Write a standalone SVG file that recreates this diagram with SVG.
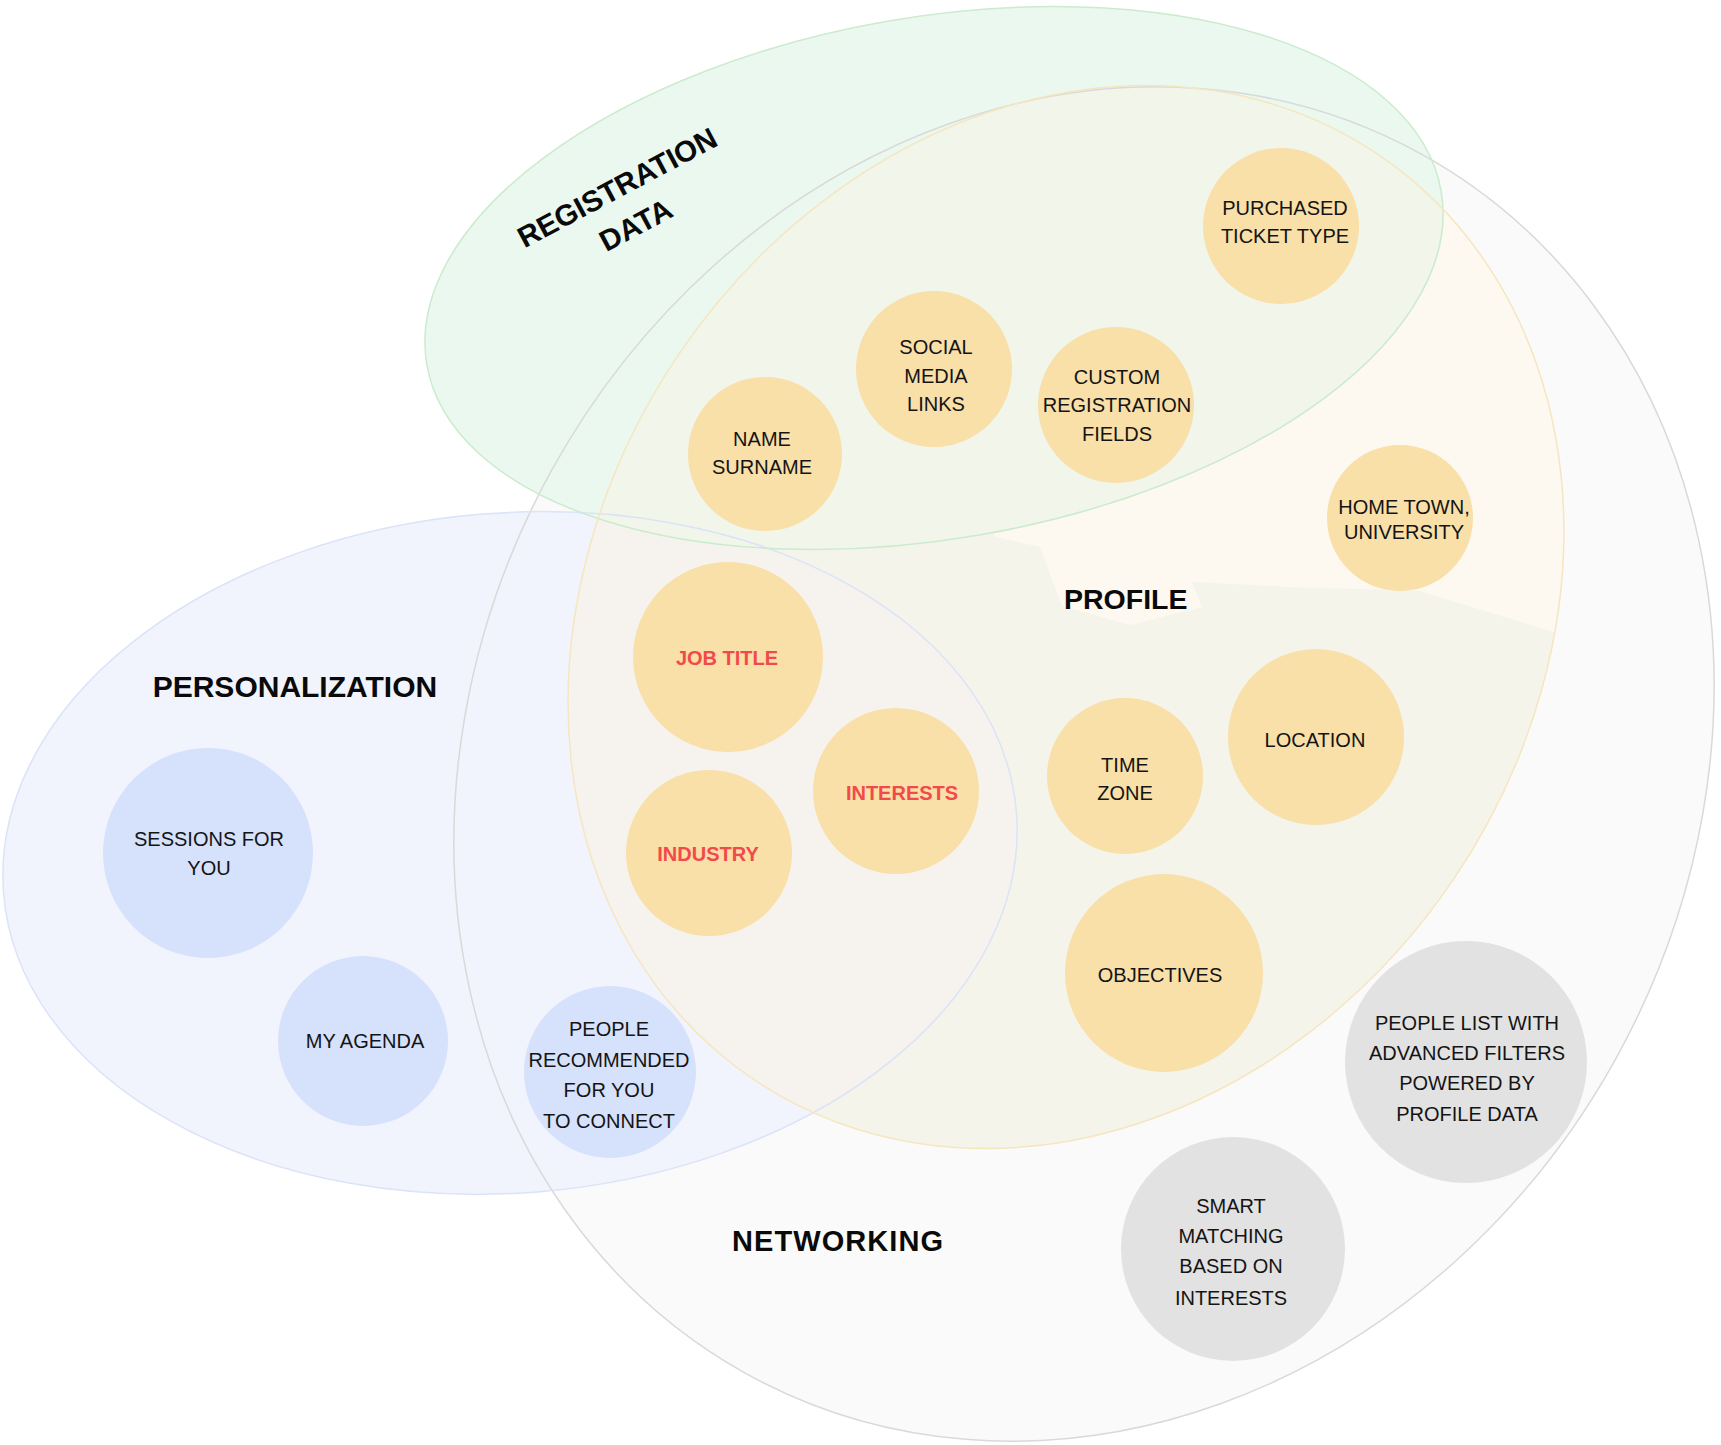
<svg xmlns="http://www.w3.org/2000/svg" width="1721" height="1445" viewBox="0 0 1721 1445">
<style>
.t{font-family:"Liberation Sans",Arial,sans-serif;font-size:20px;fill:#141414;text-anchor:middle}
.r{font-family:"Liberation Sans",Arial,sans-serif;font-size:20px;font-weight:bold;fill:#F24A4A;text-anchor:middle}
.h{font-family:"Liberation Sans",Arial,sans-serif;font-weight:bold;fill:#0A0A0A}
.o{fill:#F9DFA8}
.b{fill:#D6E1FB}
.g{fill:#E2E2E2}
</style>
<defs>
<ellipse id="eNet" cx="1084" cy="764" rx="608" ry="697" transform="rotate(29 1084 764)"/>
<ellipse id="ePro" cx="1066" cy="617" rx="468" ry="558" transform="rotate(34 1066 617)"/>
<ellipse id="eReg" cx="934" cy="278" rx="514.5" ry="261" transform="rotate(-9.7 934 278)"/>
<ellipse id="ePer" cx="510" cy="853" rx="508" ry="340" transform="rotate(-4.6 510 853)"/>
<clipPath id="cPro"><use href="#ePro"/></clipPath>
</defs>
<g id="areas">
<use href="#eNet" fill="#FAFAFA"/>
<use href="#ePer" fill="#F1F4FD"/>
<use href="#eReg" fill="#EBF8F0"/>
<use href="#ePro" fill="#F4F4EA"/>
<g clip-path="url(#cPro)">
<polygon points="900,400 996,537 1040,547 1062,606 1130,625 1202,607 1192,582 1309,588 1416,590 1560,634 1640,634 1640,0 900,0" fill="#FDF9F1"/>
<use href="#ePer" fill="#F6F3EF"/>
<use href="#eReg" fill="#F1F5EA"/>
</g>
<use href="#eNet" fill="none" stroke="#D9D9D9" stroke-width="1.5"/>
<use href="#ePer" fill="none" stroke="#DAE3F8" stroke-width="1.5"/>
<use href="#eReg" fill="none" stroke="#CBEBCD" stroke-width="1.5"/>
<use href="#ePro" fill="none" stroke="#F6E6C0" stroke-width="1.5"/>
</g>
<g id="connectors"/>
<g id="titles">
<text class="h" font-size="29.5" text-anchor="middle" transform="translate(622,196.6) rotate(-28)">REGISTRATION</text>
<text class="h" font-size="29.5" text-anchor="middle" transform="translate(640.5,234) rotate(-28)">DATA</text>
<text class="h" font-size="30" x="152.7" y="696.7">PERSONALIZATION</text>
<text class="h" font-size="28.5" x="1064" y="609">PROFILE</text>
<text class="h" font-size="29" x="732" y="1251" textLength="211" lengthAdjust="spacing">NETWORKING</text>
</g>
<g id="purchased-ticket-type"><circle class="o" cx="1281" cy="226" r="78"/><text class="t" x="1285" y="215">PURCHASED</text><text class="t" x="1285" y="243">TICKET TYPE</text></g>
<g id="social-media-links"><circle class="o" cx="934" cy="369" r="78"/><text class="t" x="936" y="354">SOCIAL</text><text class="t" x="936" y="383">MEDIA</text><text class="t" x="936" y="411">LINKS</text></g>
<g id="name-surname"><circle class="o" cx="765" cy="454" r="77"/><text class="t" x="762" y="446">NAME</text><text class="t" x="762" y="474">SURNAME</text></g>
<g id="custom-registration-fields"><circle class="o" cx="1116" cy="405" r="78"/><text class="t" x="1117" y="384">CUSTOM</text><text class="t" x="1117" y="412">REGISTRATION</text><text class="t" x="1117" y="441">FIELDS</text></g>
<g id="home-town-university"><circle class="o" cx="1400" cy="518" r="73"/><text class="t" x="1404" y="514">HOME TOWN,</text><text class="t" x="1404" y="539">UNIVERSITY</text></g>
<g id="location"><circle class="o" cx="1316" cy="737" r="88"/><text class="t" x="1315" y="747">LOCATION</text></g>
<g id="time-zone"><circle class="o" cx="1125" cy="776" r="78"/><text class="t" x="1125" y="772">TIME</text><text class="t" x="1125" y="800">ZONE</text></g>
<g id="objectives"><circle class="o" cx="1164" cy="973" r="99"/><text class="t" x="1160" y="982">OBJECTIVES</text></g>
<g id="job-title"><circle class="o" cx="728" cy="657" r="95"/><text class="r" x="727" y="665">JOB TITLE</text></g>
<g id="interests"><circle class="o" cx="896" cy="791" r="83"/><text class="r" x="902" y="800">INTERESTS</text></g>
<g id="industry"><circle class="o" cx="709" cy="853" r="83"/><text class="r" x="708" y="861">INDUSTRY</text></g>
<g id="sessions-for-you"><circle class="b" cx="208" cy="853" r="105"/><text class="t" x="209" y="846">SESSIONS FOR</text><text class="t" x="209" y="875">YOU</text></g>
<g id="my-agenda"><circle class="b" cx="363" cy="1041" r="85"/><text class="t" x="365" y="1048">MY AGENDA</text></g>
<g id="people-recommended"><circle class="b" cx="610" cy="1072" r="86"/><text class="t" x="609" y="1036">PEOPLE</text><text class="t" x="609" y="1067">RECOMMENDED</text><text class="t" x="609" y="1097">FOR YOU</text><text class="t" x="609" y="1128">TO CONNECT</text></g>
<g id="people-list"><circle class="g" cx="1466" cy="1062" r="121"/><text class="t" x="1467" y="1030">PEOPLE LIST WITH</text><text class="t" x="1467" y="1060">ADVANCED FILTERS</text><text class="t" x="1467" y="1090">POWERED BY</text><text class="t" x="1467" y="1121">PROFILE DATA</text></g>
<g id="smart-matching"><circle class="g" cx="1233" cy="1249" r="112"/><text class="t" x="1231" y="1213">SMART</text><text class="t" x="1231" y="1243">MATCHING</text><text class="t" x="1231" y="1273">BASED ON</text><text class="t" x="1231" y="1305">INTERESTS</text></g>
</svg>
